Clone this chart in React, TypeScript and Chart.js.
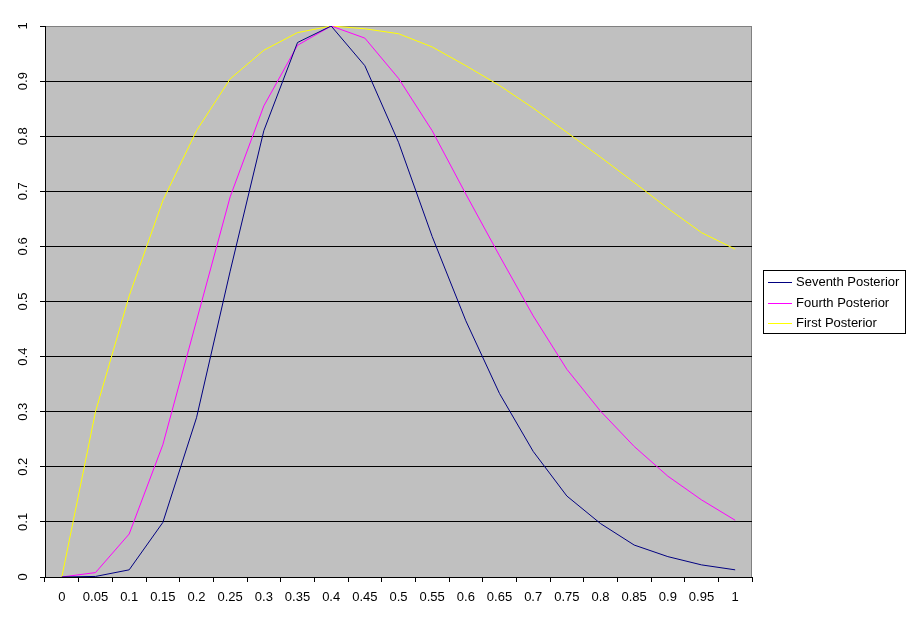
import { useEffect, useRef } from 'react';
import { Chart, registerables } from 'chart.js';

Chart.register(...registerables);

const categories = [
  '0', '0.05', '0.1', '0.15', '0.2', '0.25', '0.3', '0.35', '0.4', '0.45', '0.5',
  '0.55', '0.6', '0.65', '0.7', '0.75', '0.8', '0.85', '0.9', '0.95', '1',
];
const seventhPosterior = [
  0, 0.001, 0.013, 0.099, 0.289, 0.555, 0.81, 0.97, 1.0, 0.928, 0.789,
  0.618, 0.465, 0.333, 0.228, 0.147, 0.097, 0.058, 0.037, 0.022, 0.013,
];
const fourthPosterior = [
  0, 0.008, 0.078, 0.24, 0.465, 0.69, 0.855, 0.965, 1.0, 0.978, 0.905,
  0.81, 0.695, 0.583, 0.474, 0.377, 0.301, 0.237, 0.183, 0.14, 0.103,
];
const firstPosterior = [
  0, 0.3, 0.51, 0.683, 0.81, 0.904, 0.956, 0.988, 1.0, 0.995, 0.986,
  0.962, 0.928, 0.892, 0.851, 0.807, 0.762, 0.716, 0.669, 0.625, 0.595,
];
const seriesNames = ['Seventh Posterior', 'Fourth Posterior', 'First Posterior'];
const seriesColors = ['#000080', '#ff00ff', '#ffff00'];

const FONT = "'Liberation Sans', Arial, sans-serif";

// grey plot area with a darker outline, like the old spreadsheet look
const plotBackground = {
  id: 'plotBackground',
  beforeDraw(chart: Chart) {
    const { ctx, chartArea } = chart;
    const { left, top, right, bottom } = chartArea;
    ctx.save();
    ctx.fillStyle = '#c0c0c0';
    ctx.fillRect(left, top, right - left, bottom - top);
    ctx.strokeStyle = '#808080';
    ctx.lineWidth = 1;
    ctx.beginPath();
    ctx.moveTo(Math.round(right) - 0.5, top);
    ctx.lineTo(Math.round(right) - 0.5, bottom);
    ctx.stroke();
    ctx.restore();
  },
};

// boxed legend on the right
const boxLegend = {
  id: 'boxLegend',
  afterDraw(chart: Chart) {
    const { ctx } = chart;
    ctx.save();
    ctx.strokeStyle = '#000';
    ctx.lineWidth = 1;
    ctx.strokeRect(763.5, 270.5, 142, 63);
    ctx.font = `13px ${FONT}`;
    ctx.textBaseline = 'middle';
    ctx.textAlign = 'left';
    chart.data.datasets.forEach((ds, i) => {
      const y = Math.round(282 + i * 20.7) + 0.5;
      ctx.strokeStyle = ds.borderColor as string;
      ctx.beginPath();
      ctx.moveTo(768, y);
      ctx.lineTo(792, y);
      ctx.stroke();
      ctx.fillStyle = '#000';
      ctx.fillText(ds.label as string, 796, y);
    });
    ctx.restore();
  },
};

export default function App() {
  const canvasRef = useRef<HTMLCanvasElement>(null);
  const chartRef = useRef<Chart | null>(null);

  useEffect(() => {
    if (!canvasRef.current) return;
    const ctx = canvasRef.current.getContext('2d');
    if (!ctx) return;

    const seriesData = [seventhPosterior, fourthPosterior, firstPosterior];

    chartRef.current = new Chart(ctx, {
      type: 'line',
      data: {
        labels: categories,
        datasets: seriesData.map((data, i) => ({
          label: seriesNames[i],
          data,
          borderColor: seriesColors[i],
          backgroundColor: seriesColors[i],
          borderWidth: 1,
          pointRadius: 0,
          tension: 0,
          fill: false,
        })),
      },
      options: {
        responsive: false,
        animation: false,
        events: [],
        layout: { padding: { left: 0, top: 26, right: 159, bottom: 0 } },
        plugins: {
          legend: { display: false },
          tooltip: { enabled: false },
        },
        scales: {
          x: {
            offset: true,
            afterFit: (scale: any) => { scale.height = 46; },
            border: { color: '#000', width: 1 },
            grid: {
              offset: true,
              drawOnChartArea: false,
              drawTicks: true,
              tickLength: 5,
              color: '#000',
            },
            ticks: {
              color: '#000',
              font: { family: FONT, size: 13 },
              padding: 8,
              maxRotation: 0,
              autoSkip: false,
            },
          },
          y: {
            min: 0,
            max: 1,
            afterFit: (scale: any) => { scale.width = 45; },
            border: { color: '#000', width: 1 },
            grid: {
              color: (c: any) => (c.tick && c.tick.value === 1 ? '#808080' : '#000'),
              tickColor: '#000',
              tickLength: 5,
            },
            ticks: {
              stepSize: 0.1,
              color: '#000',
              font: { family: FONT, size: 13 },
              minRotation: 90,
              maxRotation: 90,
              crossAlign: 'center',
              padding: 8,
              callback: (v: any) => String(Number(Number(v).toFixed(1))),
            },
          },
        },
      },
      plugins: [plotBackground, boxLegend],
    });

    return () => {
      chartRef.current?.destroy();
      chartRef.current = null;
    };
  }, []);

  return (
    <div style={{ position: 'absolute', left: 0, top: 0, width: 911, height: 623, background: '#fff' }}>
      <canvas ref={canvasRef} width={911} height={623}></canvas>
    </div>
  );
}
